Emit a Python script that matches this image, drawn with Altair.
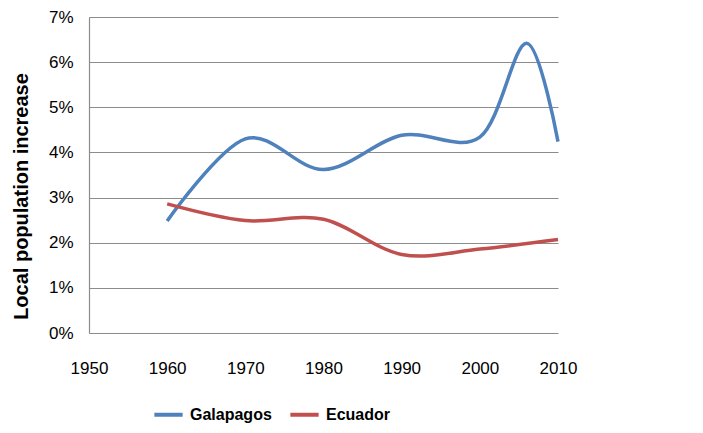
import altair as alt
import pandas as pd

gal_years = [1960, 1970, 1980, 1990, 2000, 2006, 2010]
gal_vals = [0.0248, 0.0430, 0.0362, 0.0438, 0.0434, 0.0642, 0.0424]
ecu_years = [1960, 1970, 1980, 1990, 2000, 2010]
ecu_vals = [0.0286, 0.0249, 0.0252, 0.0174, 0.0186, 0.0207]

series = ["Galapagos", "Ecuador"]
colors = ["#4F81BD", "#C0504D"]
x_ticks = [1950, 1960, 1970, 1980, 1990, 2000, 2010]
y_ticks = [0, 0.01, 0.02, 0.03, 0.04, 0.05, 0.06, 0.07]

rows = [{"year": y, "value": v, "series": "Galapagos"} for y, v in zip(gal_years, gal_vals)]
rows += [{"year": y, "value": v, "series": "Ecuador"} for y, v in zip(ecu_years, ecu_vals)]
df = pd.DataFrame(rows)

FONT = "Liberation Sans"

chart = alt.Chart(df).mark_line(
    interpolate="cardinal", tension=0, strokeWidth=3.5
).encode(
    x=alt.X("year:Q",
            scale=alt.Scale(domain=[1950, 2010], nice=False, zero=False),
            axis=alt.Axis(values=x_ticks, format="d", title=None, grid=False,
                          domain=False, ticks=False, labelPadding=27, labelFlush=False,
                          labelFontSize=17, labelColor="#000", labelFont=FONT)),
    y=alt.Y("value:Q",
            scale=alt.Scale(domain=[0, 0.07], nice=False),
            axis=alt.Axis(values=y_ticks, format=".0%", title="Local population increase",
                          grid=True, gridColor="#8C8C8C", gridWidth=1.2,
                          domain=True, domainColor="#8C8C8C", domainWidth=1.2,
                          ticks=False, labelPadding=16, labelFontSize=17, labelFlush=False,
                          labelColor="#000", labelFont=FONT,
                          titleFont=FONT, titleFontSize=20, titleFontWeight="bold",
                          titleColor="#000", titleX=-68, titleY=179,
                          titleAlign="center", titleBaseline="middle", titleAngle=-90)),
    color=alt.Color("series:N",
                    scale=alt.Scale(domain=series, range=colors),
                    sort=series,
                    legend=alt.Legend(title=None, orient="none", legendX=63, legendY=381,
                                      direction="horizontal", symbolType="stroke",
                                      symbolStrokeWidth=4, symbolSize=800,
                                      labelFont=FONT, labelFontSize=16, labelLimit=200,
                                      labelFontWeight="bold", labelColor="#000",
                                      columnPadding=10, labelOffset=5)),
).properties(
    width=469, height=316,
    autosize=alt.AutoSizeParams(type="none"),
    padding={"left": 81, "top": 9, "right": 40, "bottom": 92},
).configure_view(stroke=None)

chart.save("out.html", embed_options={"renderer": "svg", "actions": False})
